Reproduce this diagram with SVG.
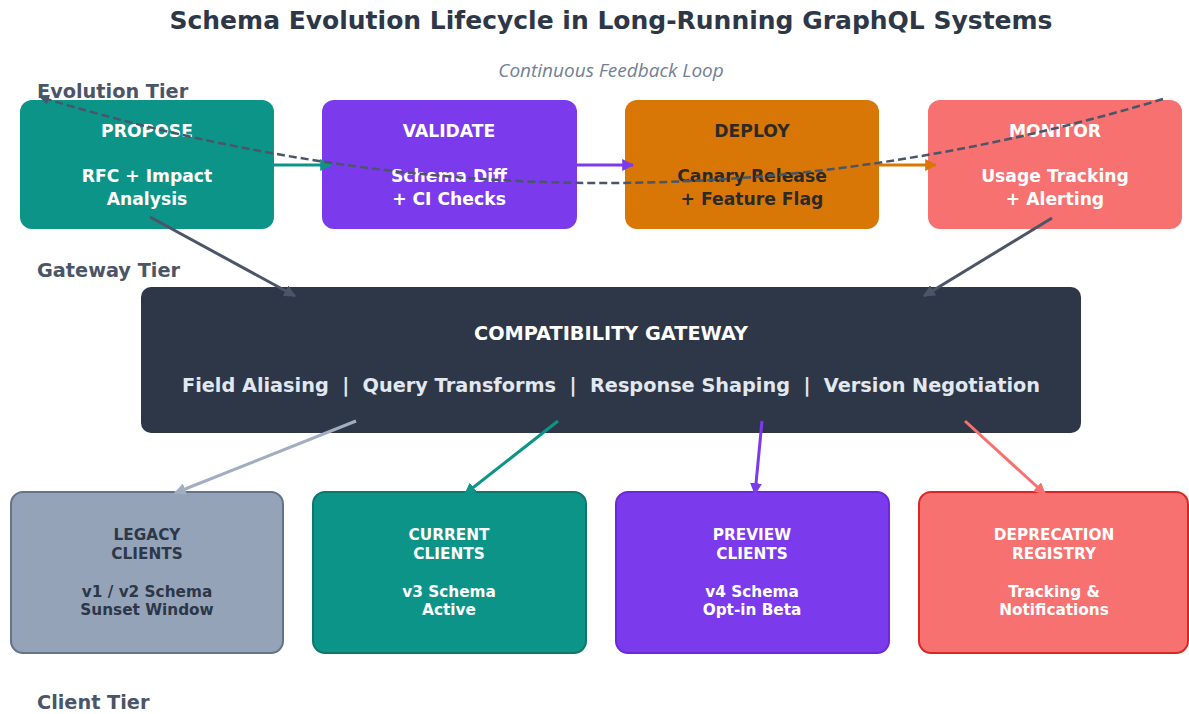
<svg xmlns="http://www.w3.org/2000/svg" width="1189" height="714" viewBox="0 0 1189 714">
<defs>
<style>
.t{font-family:"DejaVu Sans","Liberation Sans",sans-serif;font-weight:bold;text-anchor:middle}
.tier{font-family:"DejaVu Sans","Liberation Sans",sans-serif;font-weight:bold;font-size:19.3px;fill:#4a5568}
.w{fill:#ffffff}
.top{font-size:17.2px}
.cl{font-size:15.3px}
.conn{fill:none;stroke-width:3}
</style>
<marker id="aT" viewBox="0 0 10 10" refX="9" refY="5" markerWidth="4" markerHeight="4" orient="auto"><path d="M0,0L10,5L0,10z" fill="#0d9488"/></marker>
<marker id="aP" viewBox="0 0 10 10" refX="9" refY="5" markerWidth="4" markerHeight="4" orient="auto"><path d="M0,0L10,5L0,10z" fill="#7c3aed"/></marker>
<marker id="aO" viewBox="0 0 10 10" refX="9" refY="5" markerWidth="4" markerHeight="4" orient="auto"><path d="M0,0L10,5L0,10z" fill="#d97706"/></marker>
<marker id="aD" viewBox="0 0 10 10" refX="9" refY="5" markerWidth="4" markerHeight="4" orient="auto"><path d="M0,0L10,5L0,10z" fill="#4a5568"/></marker>
<marker id="aG" viewBox="0 0 10 10" refX="9" refY="5" markerWidth="4" markerHeight="4" orient="auto"><path d="M0,0L10,5L0,10z" fill="#a0aec0"/></marker>
<marker id="aR" viewBox="0 0 10 10" refX="9" refY="5" markerWidth="4" markerHeight="4" orient="auto"><path d="M0,0L10,5L0,10z" fill="#f87171"/></marker>
</defs>
<rect width="1189" height="714" fill="#ffffff"/>
<text class="t" x="611" y="29" font-size="25" fill="#2d3748">Schema Evolution Lifecycle in Long-Running GraphQL Systems</text>
<text x="611" y="77" text-anchor="middle" font-family="'Open Sans','DejaVu Sans',sans-serif" font-style="italic" font-size="19" fill="#718096">Continuous Feedback Loop</text>
<text class="tier" x="37" y="98">Evolution Tier</text>
<text class="tier" x="37" y="277">Gateway Tier</text>
<text class="tier" x="37" y="709">Client Tier</text>

<g id="propose">
<rect x="20" y="100" width="254" height="129" rx="12" fill="#0d9488"/>
<text class="t top w" x="147" y="137">PROPOSE</text>
<text class="t top w" x="147" y="182">RFC + Impact</text>
<text class="t top w" x="147" y="205">Analysis</text>
</g>
<g id="validate">
<rect x="322" y="100" width="255" height="129" rx="12" fill="#7c3aed"/>
<text class="t top w" x="449" y="137">VALIDATE</text>
<text class="t top w" x="449" y="182">Schema Diff</text>
<text class="t top w" x="449" y="205">+ CI Checks</text>
</g>
<g id="deploy">
<rect x="625" y="100" width="254" height="129" rx="12" fill="#d97706"/>
<text class="t top" x="752" y="137" fill="#2d2a26">DEPLOY</text>
<text class="t top" x="752" y="182" fill="#2d2a26">Canary Release</text>
<text class="t top" x="752" y="205" fill="#2d2a26">+ Feature Flag</text>
</g>
<g id="monitor">
<rect x="928" y="100" width="254" height="129" rx="12" fill="#f87171"/>
<text class="t top w" x="1055" y="137">MONITOR</text>
<text class="t top w" x="1055" y="182">Usage Tracking</text>
<text class="t top w" x="1055" y="205">+ Alerting</text>
</g>

<g id="gateway">
<rect x="141" y="287" width="940" height="146" rx="10" fill="#2d3748"/>
<text class="t w" x="611" y="340" font-size="19.3">COMPATIBILITY GATEWAY</text>
<text class="t" x="611" y="392" font-size="19.3" fill="#e2e8f0" xml:space="preserve">Field Aliasing  |  Query Transforms  |  Response Shaping  |  Version Negotiation</text>
</g>

<g id="legacy">
<rect x="11" y="492" width="272" height="161" rx="12" fill="#94a3b8" stroke="#64748b" stroke-width="2"/>
<text class="t cl" x="147" y="540" fill="#2d3748">LEGACY</text>
<text class="t cl" x="147" y="559" fill="#2d3748">CLIENTS</text>
<text class="t cl" x="147" y="597" fill="#2d3748">v1 / v2 Schema</text>
<text class="t cl" x="147" y="615" fill="#2d3748">Sunset Window</text>
</g>
<g id="current">
<rect x="313" y="492" width="273" height="161" rx="12" fill="#0d9488" stroke="#0f766e" stroke-width="2"/>
<text class="t cl w" x="449" y="540">CURRENT</text>
<text class="t cl w" x="449" y="559">CLIENTS</text>
<text class="t cl w" x="449" y="597">v3 Schema</text>
<text class="t cl w" x="449" y="615">Active</text>
</g>
<g id="preview">
<rect x="616" y="492" width="273" height="161" rx="12" fill="#7c3aed" stroke="#6d28d9" stroke-width="2"/>
<text class="t cl w" x="752" y="540">PREVIEW</text>
<text class="t cl w" x="752" y="559">CLIENTS</text>
<text class="t cl w" x="752" y="597">v4 Schema</text>
<text class="t cl w" x="752" y="615">Opt-in Beta</text>
</g>
<g id="deprecation">
<rect x="919" y="492" width="269" height="161" rx="12" fill="#f87171" stroke="#dc2626" stroke-width="2"/>
<text class="t cl w" x="1054" y="540">DEPRECATION</text>
<text class="t cl w" x="1054" y="559">REGISTRY</text>
<text class="t cl w" x="1054" y="597">Tracking &amp;</text>
<text class="t cl w" x="1054" y="615">Notifications</text>
</g>

<g id="connectors">
<line class="conn" x1="274" y1="165" x2="331" y2="165" stroke="#0d9488" marker-end="url(#aT)"/>
<line class="conn" x1="577" y1="165" x2="633" y2="165" stroke="#7c3aed" marker-end="url(#aP)"/>
<line class="conn" x1="879" y1="165" x2="936" y2="165" stroke="#d97706" marker-end="url(#aO)"/>
<line class="conn" x1="150" y1="217" x2="295" y2="296" stroke="#4a5568" marker-end="url(#aD)"/>
<line class="conn" x1="1052" y1="218" x2="924" y2="296" stroke="#4a5568" marker-end="url(#aD)"/>
<line class="conn" x1="356" y1="421" x2="175" y2="493" stroke="#a0aec0" marker-end="url(#aG)"/>
<line class="conn" x1="558" y1="421" x2="465" y2="494" stroke="#0d9488" marker-end="url(#aT)"/>
<line class="conn" x1="762" y1="421" x2="755" y2="494" stroke="#7c3aed" marker-end="url(#aP)"/>
<line class="conn" x1="965" y1="421" x2="1045" y2="494" stroke="#f87171" marker-end="url(#aR)"/>
<path d="M1163,99 Q601,268 40,97" fill="none" stroke="#4a5568" stroke-width="2.5" stroke-dasharray="8,4" marker-end="url(#aD)"/>
</g>
</svg>
